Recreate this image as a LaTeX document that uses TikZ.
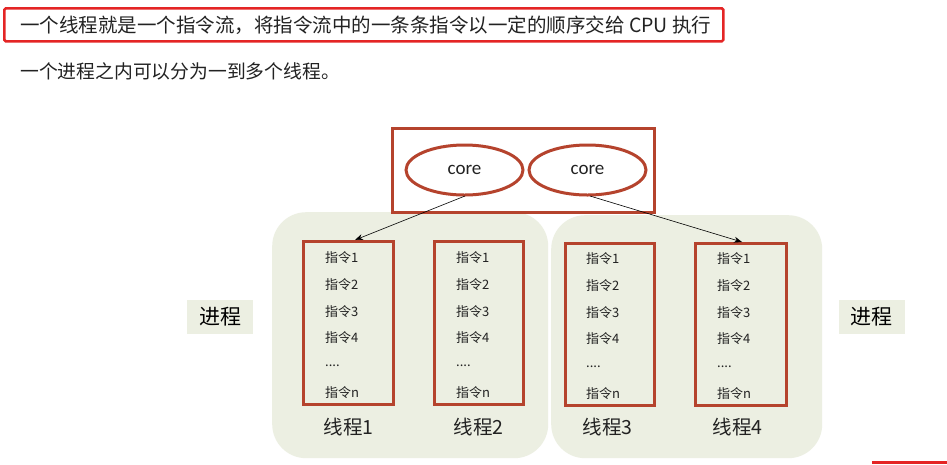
\documentclass[tikz,border=0pt]{standalone}
\usepackage{fontspec}
\setmainfont{Noto Sans CJK SC}
\newfontfamily\cjk{Noto Sans CJK SC}
\newfontfamily\corefont{Carlito}
\usetikzlibrary{arrows.meta,shapes.geometric}
\definecolor{hired}{HTML}{E42525}
\definecolor{brownred}{HTML}{B5432D}
\definecolor{bggreen}{HTML}{ECEFE2}
\definecolor{txt}{HTML}{222222}
\tikzset{
  threadbox/.style={draw=brownred, line width=3pt, anchor=north west, inner sep=0pt},
  procbg/.style={fill=bggreen, draw=none, rounded corners=34pt, anchor=north west, inner sep=0pt},
  corebox/.style={draw=brownred, line width=3pt, ellipse, minimum width=117pt, minimum height=50pt, font=\corefont\fontsize{19}{22}\selectfont, text=txt},
  instr/.style={anchor=west, font=\cjk\fontsize{13}{15}\selectfont, text=txt, inner sep=0pt},
  tlabel/.style={font=\cjk\fontsize{19.5}{22}\selectfont, text=txt, inner sep=0pt},
  plabel/.style={fill=bggreen, minimum width=66pt, minimum height=34pt, font=\cjk\fontsize{21}{24}\selectfont, text=black, inner sep=0pt},
  conn/.style={draw=black, line width=0.6pt, -{Stealth[length=8pt,width=6pt]}}
}
\begin{document}
\begin{tikzpicture}[x=1pt,y=-1pt]
\useasboundingbox[fill=white] (0,0) rectangle (947,464);
% header text
\node[draw=hired, line width=2.6pt, rounded corners=1.5pt, minimum width=719pt, minimum height=33pt, anchor=north west, inner sep=0pt] (hbox) at (3,7) {};
\node[anchor=west, font=\cjk\fontsize{19.5}{22}\selectfont, text=txt, inner sep=0pt] (h1) at (20,25) {一个线程就是一个指令流，将指令流中的一条条指令以一定的顺序交给 CPU 执行};
\node[anchor=west, font=\cjk\fontsize{18.8}{22}\selectfont, text=txt, inner sep=0pt] (h2) at (20,71) {一个进程之内可以分为一到多个线程。};
% process backgrounds
\node[procbg, minimum width=276pt, minimum height=246pt] (bgL) at (272,212) {};
\node[procbg, minimum width=271pt, minimum height=243pt] (bgR) at (551,215) {};
% CPU box
\node[draw=brownred, line width=3pt, minimum width=262pt, minimum height=84pt, anchor=north west, inner sep=0pt] (cpu) at (391,127) {};
\node[corebox] (core1) at (464.5,170) {core};
\node[corebox] (core2) at (587.5,170) {core};
% thread boxes
\node[threadbox, minimum width=90pt, minimum height=163pt] (t1) at (302,240) {};
\node[threadbox, minimum width=89pt, minimum height=163pt] (t2) at (433,240) {};
\node[threadbox, minimum width=89pt, minimum height=162pt] (t3) at (564,242) {};
\node[threadbox, minimum width=91pt, minimum height=162pt] (t4) at (694,242) {};
% instructions
\foreach \n/\xx/\dy in {a/325/0, b/456/0, c/586/1, d/717/1}{
  \node[instr] (\n1) at (\xx,258+\dy) {指令1};
  \node[instr] (\n2) at (\xx,285+\dy) {指令2};
  \node[instr] (\n3) at (\xx,312+\dy) {指令3};
  \node[instr] (\n4) at (\xx,338+\dy) {指令4};
  \node[instr] (\n5) at (\xx,366+\dy) {....};
  \node[instr] (\n6) at (\xx,393+\dy) {指令n};
}
% thread labels
\node[tlabel] (l1) at (348.5,427) {线程1};
\node[tlabel] (l2) at (478.5,427) {线程2};
\node[tlabel] (l3) at (607.5,427) {线程3};
\node[tlabel] (l4) at (737.5,427) {线程4};
% process labels
\node[plabel] (p1) at (220,316.5) {进程};
\node[plabel] (p2) at (871.5,316.5) {进程};
% connectors
\coordinate (c1s) at (465,196);
\coordinate (c2s) at (590,196);
\draw[conn] (c1s) -- (t1.north -| 355,0);
\draw[conn] (c2s) -- (t4.north -| 742,0);
% bottom-right red bar
\node[fill=hired, minimum width=75pt, minimum height=3pt, inner sep=0pt, anchor=north west] (rbar) at (872,461) {};
\end{tikzpicture}
\end{document}
